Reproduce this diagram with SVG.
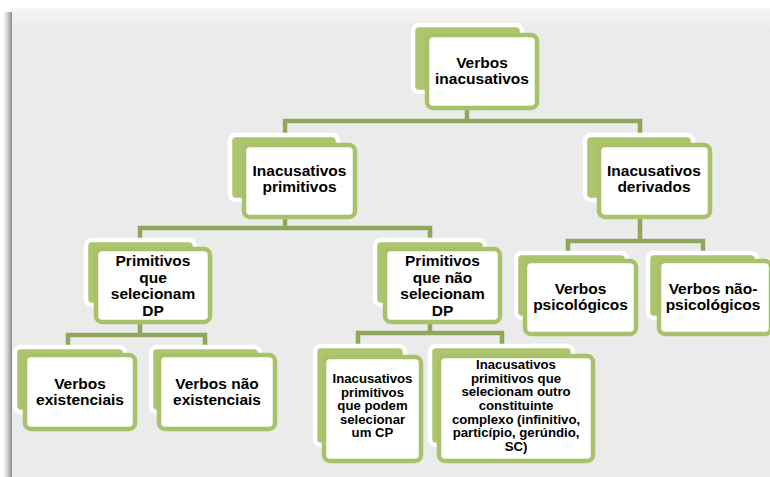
<svg xmlns="http://www.w3.org/2000/svg" width="770" height="477" viewBox="0 0 770 477">
<defs>
<linearGradient id="lsh" x1="0" y1="0" x2="1" y2="0">
<stop offset="0" stop-color="#ffffff"/>
<stop offset="0.5" stop-color="#d0d0d0"/>
<stop offset="1" stop-color="#8a8a8a"/>
</linearGradient>
<linearGradient id="tsh" x1="0" y1="0" x2="0" y2="1">
<stop offset="0" stop-color="#f6f6f6"/>
<stop offset="1" stop-color="#ebebeb"/>
</linearGradient>
<style>
.back{fill:#adc56f;stroke:#ffffff;stroke-width:4.5}
.front{fill:#ffffff;stroke:#a8c16a;stroke-width:4.5}
.con{fill:none;stroke:#8fa65b;stroke-width:4.5;stroke-linejoin:miter}
.t{font-family:"Liberation Sans",Arial,sans-serif;font-weight:bold;font-size:15.5px;fill:#000;text-anchor:middle}
.s{font-family:"Liberation Sans",Arial,sans-serif;font-weight:bold;font-size:13.2px;fill:#000;text-anchor:middle}
</style>
</defs>
<rect x="0" y="0" width="770" height="477" fill="#ffffff"/>
<rect x="3" y="12" width="9" height="465" fill="url(#lsh)"/>
<rect x="12" y="8" width="758" height="469" fill="#ebebeb"/>
<rect x="12" y="8" width="758" height="22" fill="url(#tsh)"/>

<g id="connectors">
<path class="con" d="M467,110 V121 M285,134 V121 H640 V134"/>
<path class="con" d="M285,219 V228 M140,241 V228 H430 V241"/>
<path class="con" d="M640,218 V241 M568,252 V241 H703 V252"/>
<path class="con" d="M140,324 V335 M68,347 V335 H205 V347"/>
<path class="con" d="M430,324 V333 M358,347 V333 H502 V347"/>
</g>

<g id="n1">
<rect class="back" x="413" y="25" width="109" height="67" rx="6"/>
<rect class="front" x="427" y="35" width="110" height="73" rx="6"/>
<text class="t" x="482" y="68">Verbos</text>
<text class="t" x="482" y="84">inacusativos</text>
</g>

<g id="n2">
<rect class="back" x="230" y="135" width="108" height="65" rx="6"/>
<rect class="front" x="244" y="145" width="111" height="72" rx="6"/>
<text class="t" x="299.5" y="176">Inacusativos</text>
<text class="t" x="299.5" y="192">primitivos</text>
</g>

<g id="n3">
<rect class="back" x="585" y="135" width="108" height="65" rx="6"/>
<rect class="front" x="599" y="145" width="111" height="72" rx="6"/>
<text class="t" x="654" y="176">Inacusativos</text>
<text class="t" x="654" y="192">derivados</text>
</g>

<g id="n4">
<rect class="back" x="86" y="240" width="109" height="65" rx="6"/>
<rect class="front" x="96" y="249" width="114" height="73" rx="6"/>
<text class="t" x="153" y="266">Primitivos</text>
<text class="t" x="153" y="282.5">que</text>
<text class="t" x="153" y="299">selecionam</text>
<text class="t" x="153" y="316">DP</text>
</g>

<g id="n5">
<rect class="back" x="375" y="240" width="110" height="65" rx="6"/>
<rect class="front" x="385" y="249" width="115" height="73" rx="6"/>
<text class="t" x="442.5" y="266">Primitivos</text>
<text class="t" x="442.5" y="282.5">que não</text>
<text class="t" x="442.5" y="299">selecionam</text>
<text class="t" x="442.5" y="316">DP</text>
</g>

<g id="n6">
<rect class="back" x="516" y="253" width="111" height="65" rx="6"/>
<rect class="front" x="525" y="261" width="111" height="73" rx="6"/>
<text class="t" x="580.5" y="294">Verbos</text>
<text class="t" x="580.5" y="310">psicológicos</text>
</g>

<g id="n7">
<rect class="back" x="648" y="253" width="109" height="65" rx="6"/>
<rect class="front" x="659" y="261" width="112" height="73" rx="6"/>
<text class="t" x="713" y="294">Verbos não-</text>
<text class="t" x="713" y="310">psicológicos</text>
</g>

<g id="n8">
<rect class="back" x="15" y="347" width="110" height="65" rx="6"/>
<rect class="front" x="25" y="355" width="110" height="74" rx="6"/>
<text class="t" x="80" y="389">Verbos</text>
<text class="t" x="80" y="405">existenciais</text>
</g>

<g id="n9">
<rect class="back" x="151" y="347" width="109" height="65" rx="6"/>
<rect class="front" x="159" y="355" width="116" height="74" rx="6"/>
<text class="t" x="217" y="389">Verbos não</text>
<text class="t" x="217" y="405">existenciais</text>
</g>

<g id="n10">
<rect class="back" x="315" y="346" width="90" height="99" rx="6"/>
<rect class="front" x="324" y="357" width="97" height="104" rx="6"/>
<text class="s" x="372.5" y="383">Inacusativos</text>
<text class="s" x="372.5" y="396.5">primitivos</text>
<text class="s" x="372.5" y="410">que podem</text>
<text class="s" x="372.5" y="423.5">selecionar</text>
<text class="s" x="372.5" y="437">um CP</text>
</g>

<g id="n11">
<rect class="back" x="430" y="346" width="143" height="99" rx="6"/>
<rect class="front" x="439" y="356" width="154" height="105" rx="6"/>
<text class="s" x="516" y="369">Inacusativos</text>
<text class="s" x="516" y="382.5">primitivos que</text>
<text class="s" x="516" y="396">selecionam outro</text>
<text class="s" x="516" y="410">constituinte</text>
<text class="s" x="516" y="423.5">complexo (infinitivo,</text>
<text class="s" x="516" y="437">particípio, gerúndio,</text>
<text class="s" x="516" y="451">SC)</text>
</g>
</svg>
